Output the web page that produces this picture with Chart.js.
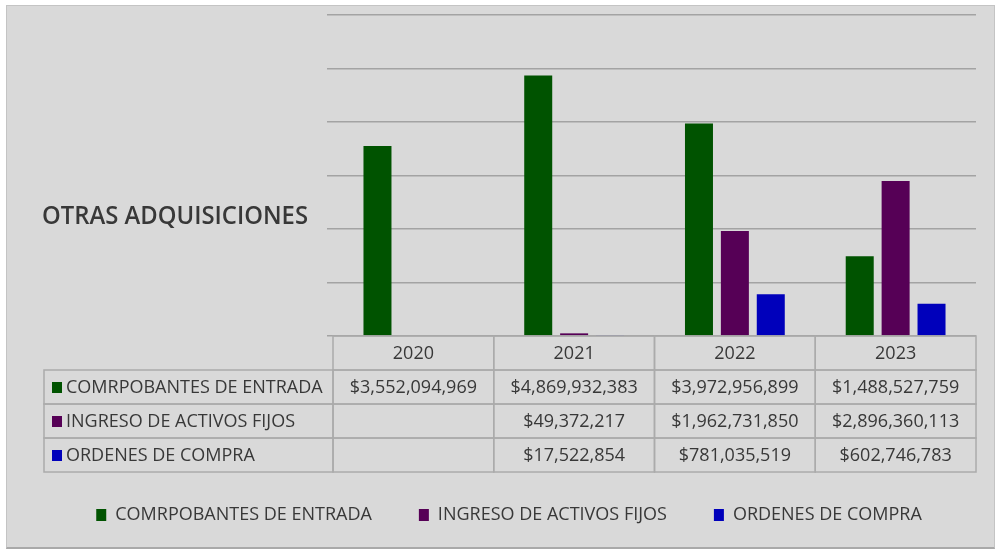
<!DOCTYPE html>
<html>
<head>
<meta charset="utf-8">
<script src="https://cdn.jsdelivr.net/npm/chart.js@4"></script>
<style>
  body { margin: 0; background: #ffffff; }
  #marco {
    position: absolute; left: 6px; top: 5px; width: 987px; height: 541px;
    background: #d9d9d9; border: 1px solid #c4c4c4; border-bottom: 2px solid #a9a9a9;
  }
  #lienzo { position: absolute; left: 0; top: 0; }
</style>
</head>
<body>
<div id="marco"></div>
<canvas id="lienzo" width="995" height="552"></canvas>
<script>
var anios = ['2020', '2021', '2022', '2023'];
var comprobantes = [3552094969, 4869932383, 3972956899, 1488527759];
var activosFijos = [null, 49372217, 1962731850, 2896360113];
var ordenesCompra = [null, 17522854, 781035519, 602746783];
var titulo = 'OTRAS ADQUISICIONES';

var fuente = '"Open Sans", "Noto Sans", sans-serif';
var colorTexto = '#383838';

function dinero(v) {
    if (v === null || v === undefined) return '';
    return '$' + v.toLocaleString('en-US');
}

// titulo a la izquierda y tabla de datos debajo del grafico
var tablaDatos = {
    id: 'tablaDatos',
    afterDraw: function (chart) {
        var ctx = chart.ctx;
        var x = chart.scales.x;
        var area = chart.chartArea;
        var ancho = (x.right - x.left) / anios.length;
        var fila = 34;
        var arriba = area.bottom;
        var izq = 44;

        ctx.save();
        ctx.fillStyle = colorTexto;
        ctx.font = '600 25px ' + fuente;
        ctx.textBaseline = 'middle';
        ctx.textAlign = 'left';
        ctx.fillText(titulo, 42, 217, 266);

        ctx.strokeStyle = '#ababab';
        ctx.lineWidth = 1.5;
        // encabezado de años
        anios.forEach(function (a, i) {
            var cx = x.getPixelForValue(i);
            ctx.strokeRect(cx - ancho / 2, arriba, ancho, fila);
        });
        // filas de series
        chart.data.datasets.forEach(function (ds, r) {
            var y = arriba + fila * (r + 1);
            ctx.strokeRect(izq, y, area.left - izq, fila);
            anios.forEach(function (a, i) {
                var cx = x.getPixelForValue(i);
                ctx.strokeRect(cx - ancho / 2, y, ancho, fila);
            });
        });

        ctx.font = '500 18px ' + fuente;
        ctx.textAlign = 'center';
        anios.forEach(function (a, i) {
            ctx.fillText(a, x.getPixelForValue(i), arriba + fila / 2 + 1);
        });
        chart.data.datasets.forEach(function (ds, r) {
            var yc = arriba + fila * (r + 1) + fila / 2 + 1;
            ctx.fillStyle = ds.backgroundColor;
            ctx.fillRect(52, yc - 6, 10, 11);
            ctx.fillStyle = colorTexto;
            ctx.textAlign = 'left';
            ctx.fillText(ds.label, 66, yc, 260);
            ctx.textAlign = 'center';
            ds.data.forEach(function (v, i) {
                ctx.fillText(dinero(v), x.getPixelForValue(i), yc);
            });
        });
        ctx.restore();
    }
};

var ctx = document.getElementById('lienzo');
var grafico = new Chart(ctx, {
    type: 'bar',
    data: {
        labels: anios,
        datasets: [{
            label: 'COMRPOBANTES DE ENTRADA',
            data: comprobantes,
            backgroundColor: '#005300'
        }, {
            label: 'INGRESO DE ACTIVOS FIJOS',
            data: activosFijos,
            backgroundColor: '#560056'
        }, {
            label: 'ORDENES DE COMPRA',
            data: ordenesCompra,
            backgroundColor: '#0000bb'
        }]
    },
    options: {
        responsive: false,
        animation: false,
        categoryPercentage: 0.67,
        barPercentage: 0.78,
        layout: { padding: { top: 15, right: 19, left: 42, bottom: 18 } },
        plugins: {
            tooltip: { enabled: false },
            legend: {
                position: 'bottom',
                labels: {
                    boxWidth: 10,
                    boxHeight: 12,
                    padding: 47,
                    color: colorTexto,
                    font: { family: fuente, size: 18, weight: '500' }
                }
            }
        },
        scales: {
            x: {
                ticks: { display: false },
                grid: { display: false },
                border: { display: false },
                afterFit: function (eje) { eje.height = 123; }
            },
            y: {
                min: 0,
                max: 6000000000,
                ticks: { display: false, stepSize: 1000000000 },
                border: { display: false },
                grid: { color: '#a3a3a3', lineWidth: 1.5, tickLength: 6 },
                afterFit: function (eje) { eje.width = 291; }
            }
        }
    },
    plugins: [tablaDatos]
});
</script>
</body>
</html>
